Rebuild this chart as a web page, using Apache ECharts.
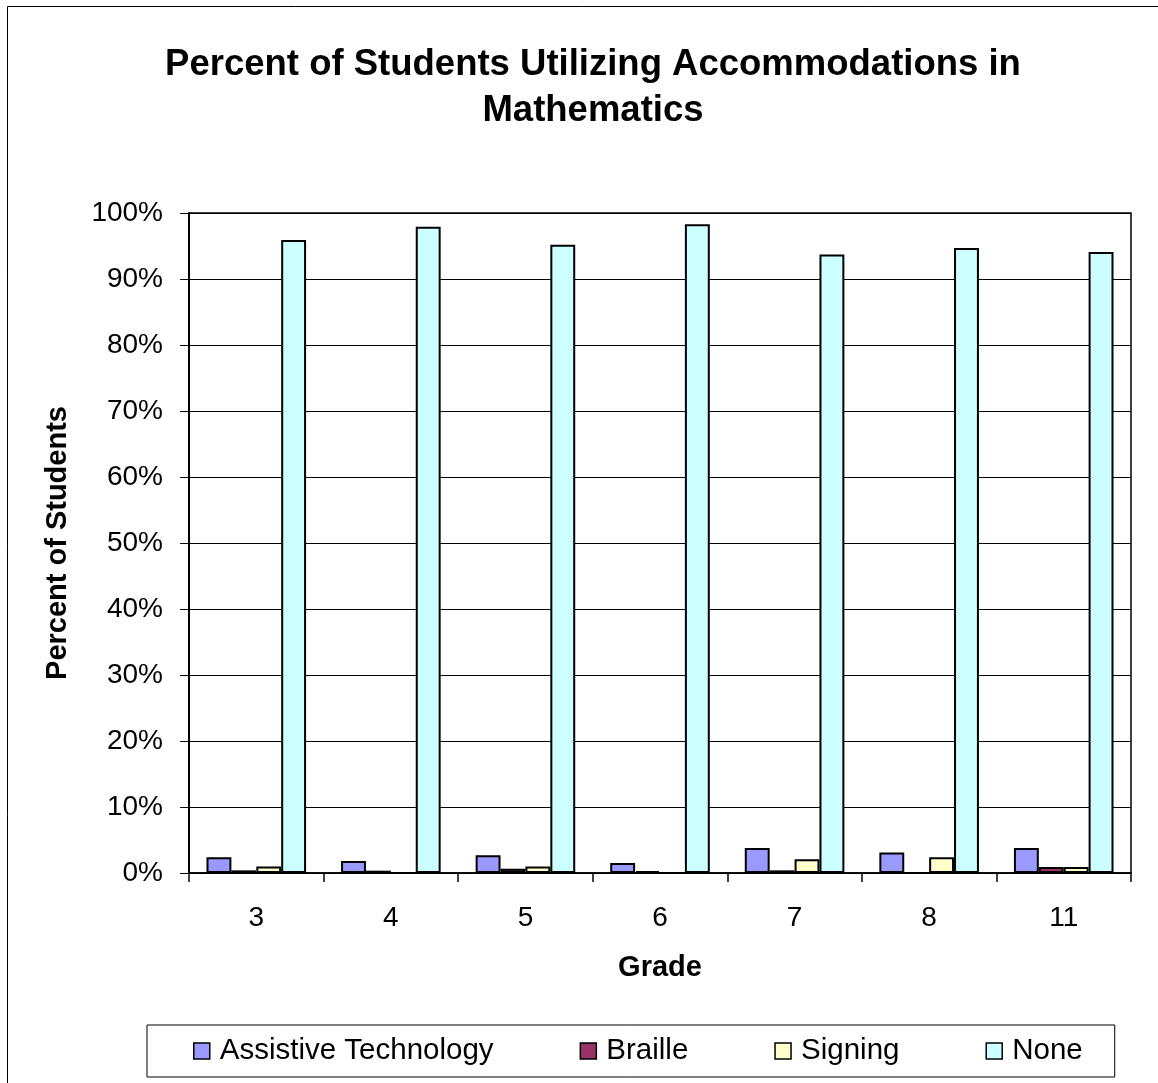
<!DOCTYPE html>
<html>
<head>
<meta charset="utf-8">
<script src="https://cdn.jsdelivr.net/npm/echarts@6/dist/echarts.min.js"></script>
<style>
  html, body { margin: 0; padding: 0; background: #fff; }
  #chart { width: 1158px; height: 1083px; }
</style>
</head>
<body>
<div id="chart"></div>
<script>
// Grades on the horizontal axis
const grades = ['3', '4', '5', '6', '7', '8', '11'];

// Percent of students per accommodation type, by grade
const assistiveTechnology = [2.4, 1.8, 2.7, 1.5, 3.8, 3.1, 3.8];
const braille             = [0.4, 0.35, 0.65, 0.3, 0.4, 0, 0.9];
const signing             = [1.0, 0, 1.0, 0, 2.1, 2.4, 0.9];
const none                = [95.9, 97.9, 95.2, 98.3, 93.7, 94.7, 94.1];

const seriesNames = ['Assistive Technology', 'Braille', 'Signing', 'None'];
const seriesColors = ['#9999FF', '#993366', '#FFFFCC', '#CCFFFF'];
const seriesValues = [assistiveTechnology, braille, signing, none];

const FONT = 'Liberation Sans, Arial, sans-serif';

const chart = echarts.init(document.getElementById('chart'), null, { renderer: 'canvas' });

chart.setOption({
  backgroundColor: '#ffffff',
  animation: false,
  graphic: [{
    type: 'rect',
    shape: { x: 7.5, y: 6.5, width: 1200, height: 1200 },
    style: { fill: 'none', stroke: '#000', lineWidth: 1 },
    silent: true,
    z: -10
  }],
  title: {
    text: 'Percent of Students Utilizing Accommodations in\nMathematics',
    left: 588,
    top: 37,
    textAlign: 'center',
    textStyle: {
      fontFamily: FONT,
      fontSize: 36.5,
      fontWeight: 'bold',
      color: '#000',
      lineHeight: 46
    }
  },
  legend: {
    data: seriesNames,
    left: 147,
    top: 1025,
    orient: 'horizontal',
    itemGap: 86,
    itemWidth: 16,
    itemHeight: 16,
    icon: 'rect',
    padding: [11, 32, 11, 46],
    borderColor: '#000',
    borderWidth: 1,
    itemStyle: { borderColor: '#000', borderWidth: 1.5 },
    textStyle: {
      fontFamily: FONT,
      fontSize: 29.5,
      color: '#000',
      padding: [0, 0, 0, 5]
    }
  },
  grid: {
    left: 189,
    top: 213,
    width: 942,
    height: 660,
    show: true,
    borderColor: '#000',
    borderWidth: 1.5,
    backgroundColor: 'transparent'
  },
  xAxis: {
    type: 'category',
    data: grades,
    name: 'Grade',
    nameLocation: 'middle',
    nameGap: 80,
    nameTextStyle: {
      fontFamily: FONT,
      fontSize: 29,
      fontWeight: 'bold',
      color: '#000'
    },
    axisLine: { lineStyle: { color: '#000', width: 1.5 } },
    axisTick: { show: true, length: 9, lineStyle: { color: '#000', width: 1.5 } },
    axisLabel: {
      margin: 31,
      fontFamily: FONT,
      fontSize: 28,
      color: '#000'
    }
  },
  yAxis: {
    type: 'value',
    min: 0,
    max: 100,
    interval: 10,
    name: 'Percent of Students',
    nameLocation: 'middle',
    nameGap: 117,
    nameTextStyle: {
      fontFamily: FONT,
      fontSize: 29,
      fontWeight: 'bold',
      color: '#000'
    },
    axisLine: { show: true, lineStyle: { color: '#000', width: 2 } },
    axisTick: { show: true, length: 9, lineStyle: { color: '#000', width: 1 } },
    axisLabel: {
      margin: 26,
      fontFamily: FONT,
      fontSize: 28,
      color: '#000',
      formatter: '{value}%'
    },
    splitLine: { show: true, lineStyle: { color: '#000', width: 1 } }
  },
  series: seriesNames.map((name, i) => ({
    name: name,
    type: 'bar',
    data: seriesValues[i],
    barGap: '0%',
    barCategoryGap: '26%',
    itemStyle: {
      color: seriesColors[i],
      borderColor: '#000',
      borderWidth: 2
    }
  }))
});
</script>
</body>
</html>
